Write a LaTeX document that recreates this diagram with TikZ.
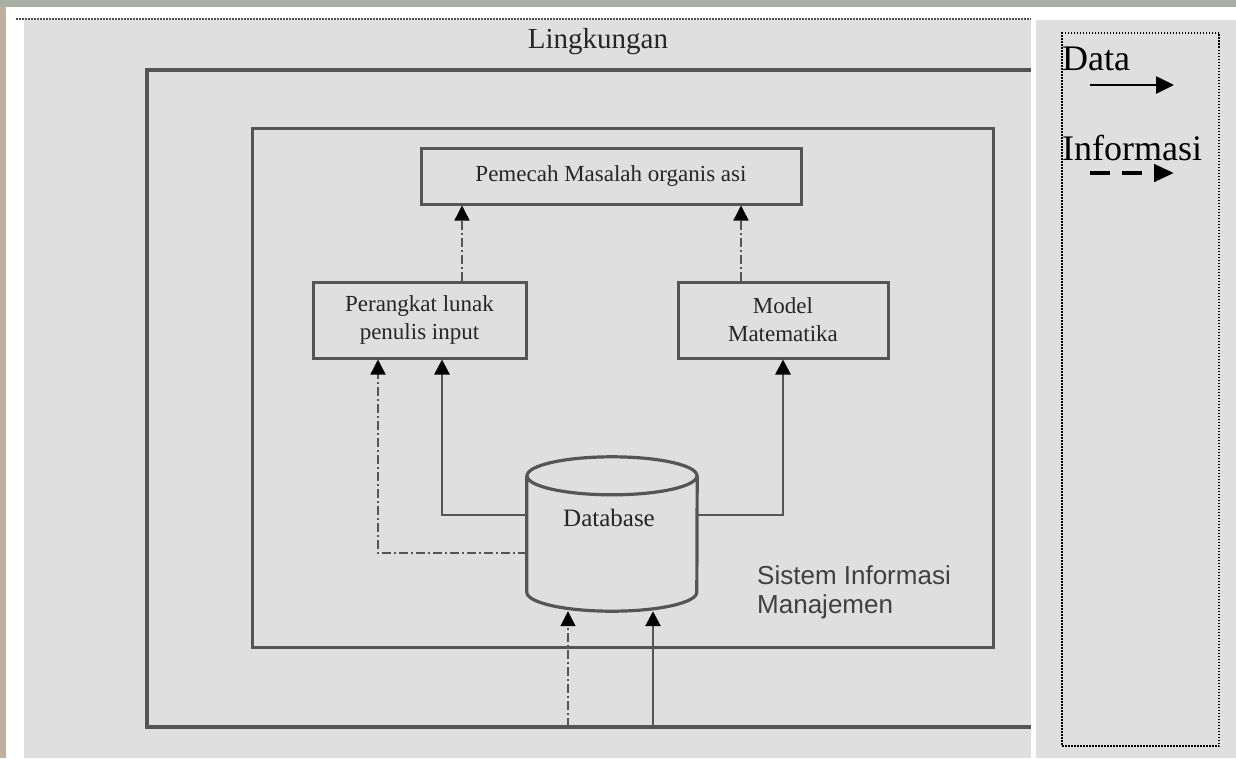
\documentclass[tikz,border=0pt]{standalone}
\usepackage{fontspec}
\setmainfont{Liberation Serif}
\setsansfont{Liberation Sans}
\usetikzlibrary{positioning,arrows.meta,calc}

\definecolor{panel}{HTML}{DFDFDF}
\definecolor{linegrey}{HTML}{555555}
\definecolor{photo}{HTML}{A9AEA5}
\definecolor{photosand}{HTML}{BFB09F}

\tikzset{
  block/.style={draw=linegrey, line width=3pt, inner sep=0pt, text=black!85,
    font=\fontsize{23}{28}\selectfont, align=center},
  frame/.style={draw=linegrey, line width=3.2pt},
  title/.style={inner sep=0pt, text=black!85, font=\fontsize{29}{34}\selectfont},
  dbbody/.style={inner sep=0pt, minimum width=170pt, minimum height=154pt},
  dblabel/.style={inner sep=0pt, text=black!85, font=\fontsize{25}{30}\selectfont},
  simlabel/.style={inner sep=0pt, text=black!75, align=left,
    font=\sffamily\fontsize{26}{29}\selectfont},
  data/.style={draw=linegrey, line width=2.8pt,
    -{Triangle[width=15pt,length=15pt,color=black]}},
  info/.style={draw=linegrey, line width=1.4pt, dash pattern=on 9pt off 3pt on 2pt off 3pt,
    -{Triangle[width=15pt,length=15pt,color=black]}},
  legendbox/.style={draw=black, line width=1.6pt, dash pattern=on 1.5pt off 1.5pt, inner sep=0pt},
  legendtext/.style={inner sep=0pt, font=\fontsize{36}{40}\selectfont},
  legdata/.style={draw=black, line width=2.6pt, -{Triangle[width=17pt,length=18pt]}},
  leginfo/.style={draw=black, line width=4.5pt, dash pattern=on 20pt off 12pt,
    -{Triangle[width=17pt,length=20pt]}}
}

\begin{document}
\begin{tikzpicture}[x=1pt, y=1pt]
  \useasboundingbox (0,0) rectangle (1236,-758);
  % latar
  \fill[photo] (0,0) rectangle (1236,-758);
  \fill[photosand] (0,-7) rectangle (6,-758);
  \fill[white] (6,-7) rectangle (1236,-758);
  \fill[panel] (24,-20) rectangle (1031,-758);
  \fill[panel] (1036,-20) rectangle (1236,-758);
  \draw[line width=1.6pt, black!70, dash pattern=on 1.5pt off 1.5pt] (16,-19) -- (1031,-19);

  % lingkungan
  \coordinate (envtr) at (1031,-70);
  \coordinate (envbr) at (1031,-727);
  \draw[frame] (envtr) -- (147,-70) -- (147,-727) -- (envbr);
  \node[title, anchor=base] (env) at (598,-48) {Lingkungan};

  % sistem informasi manajemen
  \node[block, minimum width=741pt, minimum height=519pt] (sim) at (622.5,-387.5) {};
  \node[simlabel, anchor=west] (simname) at (757,-592) {Sistem Informasi\\Manajemen};

  \node[block, minimum width=380pt, minimum height=56pt] (pemecah) at (611,-176) {Pemecah Masalah organis asi};
  \node[block, minimum width=213pt, minimum height=76pt] (perangkat) at (419.5,-320) {Perangkat lunak\\penulis input};
  \node[block, minimum width=210pt, minimum height=76pt, right=149pt of perangkat] (model) {Model\\Matematika};

  % database
  \node[dbbody] (db) at (612,-534) {};
  \draw[frame] ([yshift=-19pt]db.north west) -- ([yshift=19pt]db.south west)
    arc[start angle=180, end angle=360, x radius=85pt, y radius=19pt]
    -- ([yshift=-19pt]db.north east);
  \draw[frame] ([yshift=-19pt]db.north) ellipse [x radius=85pt, y radius=19pt];
  \node[dblabel] (dbname) at (609,-518) {Database};

  \draw[info] ([xshift=42.5pt]perangkat.north) -- ([xshift=42.5pt]perangkat.north |- pemecah.south);
  \draw[info] ([xshift=-42pt]model.north) -- ([xshift=-42pt]model.north |- pemecah.south);

  \draw[data] ([yshift=19pt]db.west) -| ([xshift=22.5pt]perangkat.south);
  \draw[info] ([yshift=-19pt]db.west) -| ([xshift=-41.5pt]perangkat.south);
  \draw[data] ([yshift=19pt]db.east) -| (model.south);

  \coordinate (in1) at (568,-727);
  \coordinate (in2) at (653,-727);
  \draw[info] (in1) -- (in1 |- db.south);
  \draw[data] (in2) -- (in2 |- db.south);

  % keterangan
  \node[legendbox, minimum width=157pt, minimum height=713pt] (legend) at (1140.5,-389.5) {};
  \node[legendtext, anchor=base west] (ldata) at (1062,-70) {Data};
  \node[legendtext, anchor=base west] (linfo) at (1062,-160) {Informasi};
  \coordinate (ld1) at (1090,-85);
  \coordinate (ld2) at (1174,-85);
  \draw[legdata] (ld1) -- (ld2);
  \coordinate (li1) at (1090,-173);
  \coordinate (li2) at (1174,-173);
  \draw[leginfo] (li1) -- (li2);
\end{tikzpicture}
\end{document}
